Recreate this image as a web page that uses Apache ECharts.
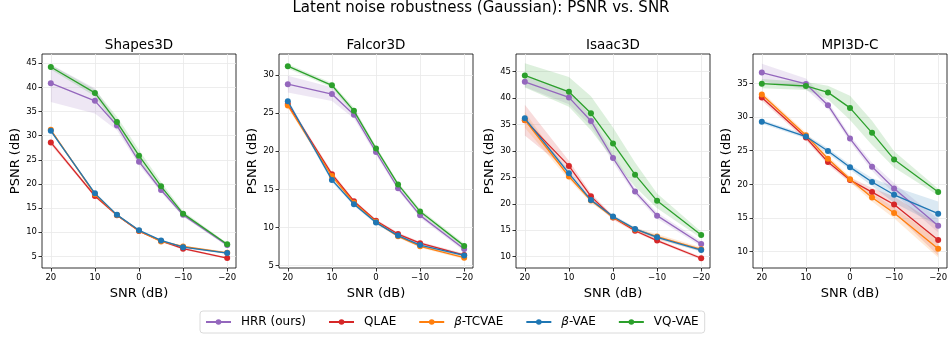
<!DOCTYPE html>
<html>
<head>
<meta charset="utf-8">
<script src="https://cdn.jsdelivr.net/npm/echarts@6/dist/echarts.min.js"></script>
<style>
  html, body { margin: 0; padding: 0; background: #fff; }
  #chart { width: 948px; height: 339px; }
</style>
</head>
<body>
<div id="chart"></div>
<script>
const snr = [20, 10, 5, 0, -5, -10, -20];
const snrTicks = [20, 10, 0, -10, -20];
const methods = ["HRR (ours)", "QLAE", "β-TCVAE", "β-VAE", "VQ-VAE"];
const datasets = ["Shapes3D", "Falcor3D", "Isaac3D", "MPI3D-C"];

// mean PSNR per method (rows in methods order), per SNR
const shapes3dMean = [
    [40.85, 37.2, 32.1, 24.6, 18.75, 13.6, 7.35],
    [28.6, 17.5, 13.5, 10.25, 8.2, 6.6, 4.65],
    [31.2, 17.85, 13.55, 10.3, 8.1, 7.05, 5.75],
    [31.0, 18.05, 13.6, 10.4, 8.3, 6.9, 5.7],
    [44.2, 38.85, 32.8, 25.85, 19.5, 13.85, 7.5],
];
const shapes3dStd = [
    [3.9, 2.6, 1.0, 0.7, 0.5, 0.4, 0.3],
    [0.5, 0.3, 0.2, 0.2, 0.2, 0.2, 0.2],
    [0.3, 0.3, 0.2, 0.2, 0.2, 0.2, 0.2],
    [0.3, 0.3, 0.2, 0.2, 0.2, 0.2, 0.2],
    [0.5, 0.7, 1.1, 1.2, 0.9, 0.5, 0.3],
];
const falcor3dMean = [
    [28.8, 27.5, 24.8, 19.9, 15.15, 11.6, 7.2],
    [26.2, 17.0, 13.45, 10.9, 9.15, 7.95, 6.4],
    [26.0, 16.75, 13.25, 10.75, 8.85, 7.55, 6.05],
    [26.55, 16.25, 13.05, 10.65, 8.95, 7.7, 6.35],
    [31.15, 28.65, 25.3, 20.35, 15.65, 12.1, 7.6],
];
const falcor3dStd = [
    [1.1, 0.9, 0.5, 0.4, 0.3, 0.3, 0.3],
    [0.3, 0.3, 0.2, 0.2, 0.2, 0.2, 0.2],
    [0.3, 0.3, 0.2, 0.2, 0.2, 0.2, 0.2],
    [0.3, 0.3, 0.2, 0.2, 0.2, 0.2, 0.2],
    [0.3, 0.3, 0.4, 0.3, 0.3, 0.3, 0.3],
];
const isaac3dMean = [
    [43.05, 40.1, 35.65, 28.65, 22.3, 17.75, 12.4],
    [35.8, 27.15, 21.4, 17.4, 14.9, 13.05, 9.7],
    [35.85, 25.15, 20.6, 17.45, 15.15, 13.8, 11.4],
    [36.15, 25.75, 20.7, 17.6, 15.25, 13.65, 11.25],
    [44.25, 41.15, 37.1, 31.4, 25.5, 20.55, 14.1],
];
const isaac3dStd = [
    [1.0, 1.3, 1.0, 0.8, 0.6, 0.6, 0.5],
    [2.9, 1.0, 0.6, 0.4, 0.3, 0.3, 0.3],
    [1.5, 0.6, 0.4, 0.3, 0.3, 0.5, 0.4],
    [0.5, 0.5, 0.3, 0.3, 0.3, 0.3, 0.3],
    [2.3, 2.8, 3.2, 3.0, 2.3, 1.4, 0.6],
];
const mpi3dMean = [
    [36.6, 34.9, 31.75, 26.8, 22.6, 19.4, 13.85],
    [32.9, 26.95, 23.3, 20.65, 18.85, 17.0, 11.75],
    [33.35, 27.3, 23.8, 20.75, 18.05, 15.75, 10.45],
    [29.3, 27.1, 24.95, 22.55, 20.35, 18.45, 15.65],
    [34.95, 34.6, 33.65, 31.35, 27.65, 23.7, 18.85],
];
const mpi3dStd = [
    [1.3, 0.8, 0.5, 0.5, 0.6, 0.8, 1.0],
    [0.5, 0.4, 0.4, 0.4, 0.6, 1.2, 2.3],
    [0.4, 0.4, 0.4, 0.4, 0.6, 0.8, 1.3],
    [0.3, 0.3, 0.4, 0.4, 0.6, 1.2, 1.8],
    [0.7, 0.6, 1.0, 1.8, 1.8, 1.2, 0.5],
];

const allMean = [shapes3dMean, falcor3dMean, isaac3dMean, mpi3dMean];
const allStd = [shapes3dStd, falcor3dStd, isaac3dStd, mpi3dStd];

const colors = ["#9467bd", "#d62728", "#ff7f0e", "#1f77b4", "#2ca02c"];
const gridLeft = [42, 279, 516, 753];
const yRange = [[2.6, 46.9], [4.7, 32.75], [7.86, 48.3], [7.58, 39.35]];
const yTicks = [
    [5, 10, 15, 20, 25, 30, 35, 40, 45],
    [5, 10, 15, 20, 25, 30],
    [10, 15, 20, 25, 30, 35, 40, 45],
    [10, 15, 20, 25, 30, 35],
];

const font = "DejaVu Sans";
const chart = echarts.init(document.getElementById("chart"));

function minus(v) {
    return v < 0 ? "\u2212" + (-v) : String(v);
}

let grids = [], xAxes = [], yAxes = [], titles = [], series = [];

titles.push({
    text: "Latent noise robustness (Gaussian): PSNR vs. SNR",
    left: 481,
    textAlign: "center",
    top: 1,
    padding: 0,
    textStyle: { fontFamily: font, fontSize: 15, fontWeight: "normal", color: "#000" },
});

datasets.forEach((ds, g) => {
    grids.push({
        left: gridLeft[g], top: 54, width: 194, height: 214,
        outerBoundsMode: "none",
        containLabel: false,
        show: true, borderColor: "#000", borderWidth: 0.8,
    });
    titles.push({
        text: ds,
        left: gridLeft[g] + 97,
        textAlign: "center",
        top: 38,
        padding: 0,
        textStyle: { fontFamily: font, fontSize: 13.5, fontWeight: "normal", color: "#000" },
    });
    xAxes.push({
        gridIndex: g,
        type: "value",
        inverse: true,
        min: -22,
        max: 22,
        name: "SNR (dB)",
        nameLocation: "middle",
        nameGap: 13,
        nameTextStyle: { fontFamily: font, fontSize: 13, color: "#000" },
        axisLine: { show: false, onZero: false },
        axisTick: { show: true, length: 3.5, customValues: snrTicks, lineStyle: { color: "#000", width: 0.8 } },
        axisLabel: {
            customValues: snrTicks,
            fontFamily: font, fontSize: 8.5, color: "#000", margin: 5,
            formatter: minus,
        },
        splitLine: { show: true, lineStyle: { color: "#e8e8e8", width: 0.8 } },
    });
    yAxes.push({
        gridIndex: g,
        type: "value",
        min: yRange[g][0],
        max: yRange[g][1],
        name: "PSNR (dB)",
        nameLocation: "middle",
        nameGap: 18,
        nameTextStyle: { fontFamily: font, fontSize: 13, color: "#000" },
        axisLine: { show: false, onZero: false },
        axisTick: { show: true, length: 3.5, customValues: yTicks[g], lineStyle: { color: "#000", width: 0.8 } },
        axisLabel: {
            customValues: yTicks[g],
            fontFamily: font, fontSize: 8.5, color: "#000", margin: 5,
        },
        splitLine: { show: true, lineStyle: { color: "#e8e8e8", width: 0.8 } },
    });

    methods.forEach((m, k) => {
        const mean = allMean[g][k];
        const std = allStd[g][k];
        const lo = mean.map((v, i) => v - std[i]);
        const hi = mean.map((v, i) => v + std[i]);
        series.push({
            name: m + " band",
            type: "custom",
            xAxisIndex: g,
            yAxisIndex: g,
            z: 1,
            silent: true,
            data: snr.map((x, i) => [x, lo[i], hi[i]]),
            encode: { x: 0, y: [1, 2] },
            renderItem(params, api) {
                if (params.dataIndex !== 0) return;
                const pts = [];
                snr.forEach((x, i) => pts.push(api.coord([x, hi[i]])));
                for (let i = snr.length - 1; i >= 0; i--) pts.push(api.coord([snr[i], lo[i]]));
                return {
                    type: "polygon",
                    shape: { points: pts },
                    style: { fill: colors[k], opacity: 0.16 },
                };
            },
        });
        series.push({
            name: m,
            type: "line",
            xAxisIndex: g,
            yAxisIndex: g,
            z: 2 + k,
            color: colors[k],
            symbol: "circle",
            symbolSize: 6,
            lineStyle: { width: 1.3 },
            data: snr.map((x, i) => [x, mean[i]]),
            animation: false,
        });
    });
});

chart.setOption({
    backgroundColor: "#fff",
    animation: false,
    title: titles,
    grid: grids,
    xAxis: xAxes,
    yAxis: yAxes,
    legend: {
        data: methods,
        left: 200,
        top: 311,
        padding: [5, 6, 5, 5],
        itemGap: 22,
        itemWidth: 25,
        itemHeight: 7,
        borderColor: "#d0d0d0",
        borderWidth: 0.8,
        borderRadius: 3,
        textStyle: {
            fontFamily: font,
            fontSize: 12,
            color: "#000",
            padding: [0, 0, 0, 5],
            rich: { b: { fontFamily: font, fontSize: 12, fontStyle: "italic", color: "#000" } },
        },
        formatter: (name) => (name.startsWith("β") ? "{b|β}" + name.slice(1) : name),
    },
    series: series,
});
</script>
</body>
</html>
